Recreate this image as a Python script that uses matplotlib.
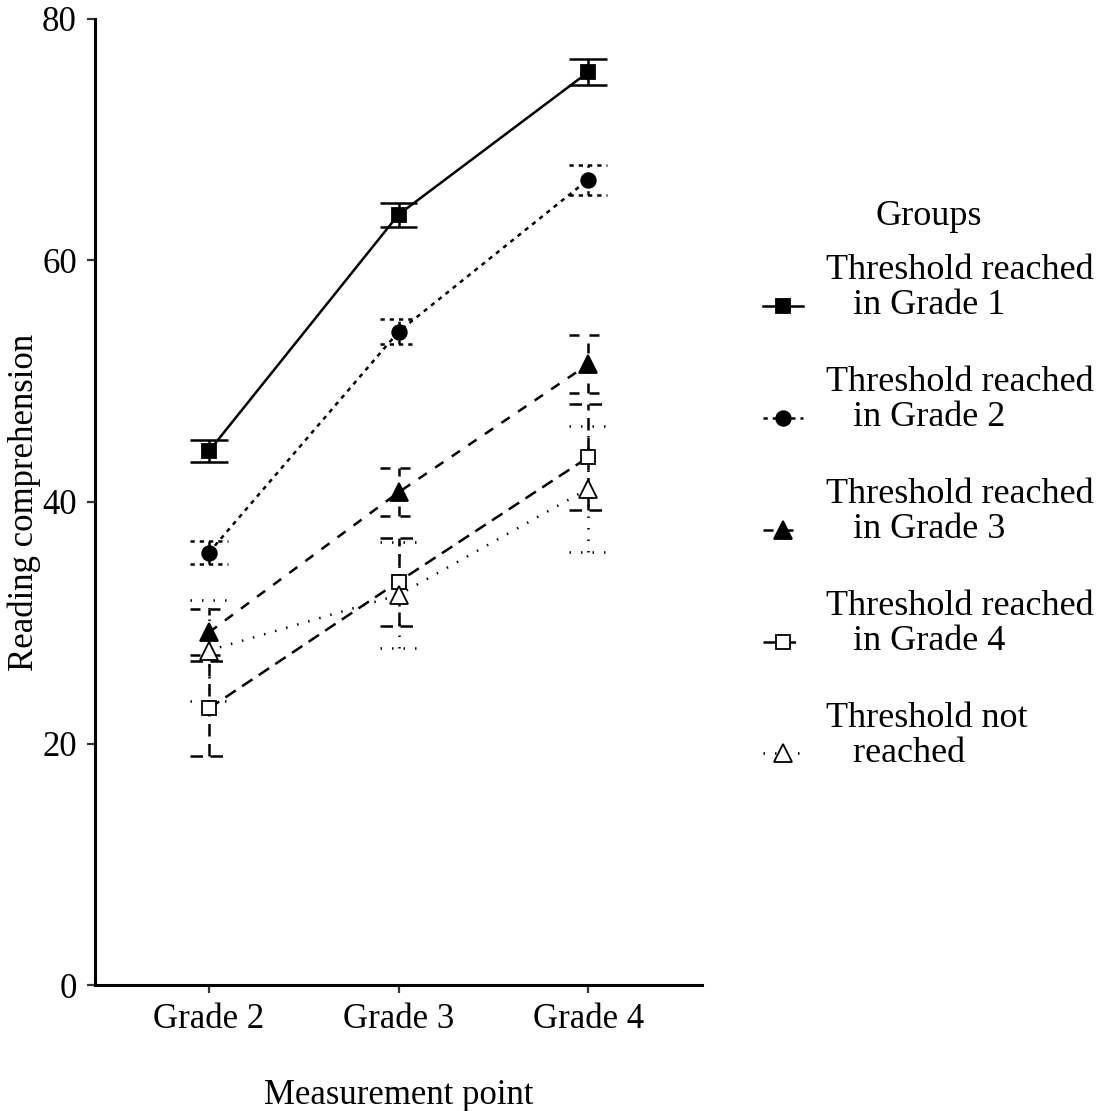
import numpy as np
import matplotlib
matplotlib.use("Agg")
import matplotlib.pyplot as plt

plt.rcParams['font.family'] = ['Liberation Serif', 'DejaVu Serif']

# ---- data ----
grades = ['Grade 2', 'Grade 3', 'Grade 4']
groups = ['Threshold reached\n   in Grade 1', 'Threshold reached\n   in Grade 2',
          'Threshold reached\n   in Grade 3', 'Threshold reached\n   in Grade 4',
          'Threshold not\n   reached']

g1_mean = [44.2, 63.8, 75.6]
g1_err = [0.9, 1.0, 1.1]
g2_mean = [35.8, 54.1, 66.7]
g2_err = [0.95, 1.05, 1.25]
g3_mean = [29.2, 40.8, 51.4]
g3_err = [1.9, 2.0, 2.4]
g4_mean = [22.9, 33.4, 43.7]
g4_err = [3.9, 3.65, 4.4]
nr_mean = [27.7, 32.3, 41.1]
nr_err = [4.2, 4.4, 5.2]

means = [g1_mean, g2_mean, g3_mean, g4_mean, nr_mean]
errs = [g1_err, g2_err, g3_err, g4_err, nr_err]

# style per group: linestyle, marker, face colour, marker size
styles = [
    ('-', 's', 'black', 10),
    ((0, (1.7, 2.0)), 'o', 'black', 10.5),
    ((0, (4, 4)), '^', 'black', 13),
    ((0, (5, 3)), 's', 'white', 10),
    ((0, (0.6, 4)), '^', 'white', 13),
]

lw = 1.8
fig = plt.figure(figsize=(10.97, 11.11), dpi=100)
ax = fig.add_axes([95 / 1097, 1 - 985 / 1111, (702 - 95) / 1097, (985 - 19) / 1111])

x = np.arange(1, len(grades) + 1)
handles = []
for m, e, (ls, mk, fc, ms) in zip(means, errs, styles):
    m = np.array(m)
    e = np.array(e)
    ax.vlines(x, m - e, m + e, colors='black', linewidth=lw, linestyles=ls, zorder=2)
    ax.hlines(m + e, x - 0.1, x + 0.1, colors='black', linewidth=lw, linestyles=ls, zorder=2)
    ax.hlines(m - e, x - 0.1, x + 0.1, colors='black', linewidth=lw, linestyles=ls, zorder=2)
    h, = ax.plot(x, m, linestyle=ls, color='black', linewidth=lw, marker=mk,
                 markersize=ms, markerfacecolor=fc, markeredgecolor='black',
                 markeredgewidth=1.3, zorder=3)
    handles.append(h)

ax.set_xlim(0.4, 3.6)
ax.set_ylim(0, 80)
ax.set_xticks(x)
ax.set_xticklabels(grades)
ax.set_yticks([0, 20, 40, 60, 80])

for s in ['top', 'right']:
    ax.spines[s].set_visible(False)
for s in ['left', 'bottom']:
    ax.spines[s].set_linewidth(2.2)
    ax.spines[s].set_color('black')
ax.tick_params(axis='both', length=6, width=1.6, color='#333333', labelsize=25, pad=7)

ax.set_xlabel('Measurement point', fontsize=25, labelpad=31)
ax.set_ylabel('Reading comprehension', fontsize=25, labelpad=1)

# trailing newline so the key sits level with the second text line
leg_labels = [g + '\n' for g in groups]
leg = ax.legend(handles, leg_labels, title='Groups', loc='upper left',
                bbox_to_anchor=(763 / 1097, 1 - 200 / 1111), bbox_transform=fig.transFigure,
                frameon=False, fontsize=26, title_fontsize=26, numpoints=1,
                handlelength=1.1, handletextpad=0.65, labelspacing=0.22,
                borderpad=0, borderaxespad=0)
for t in leg.get_texts():
    t.set_linespacing(1.1)
leg._legend_box.sep = 15  # extra room under the title

fig.savefig('out.png', dpi=100)
